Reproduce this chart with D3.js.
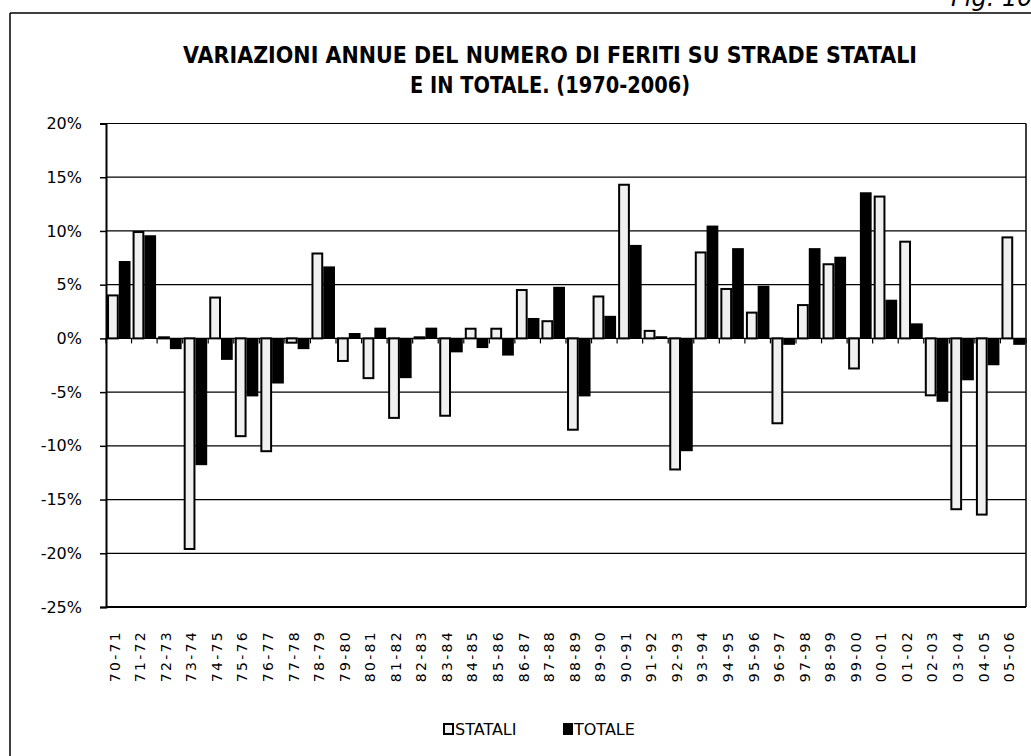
<!DOCTYPE html>
<html>
<head>
<meta charset="utf-8">
<script src="https://cdn.jsdelivr.net/npm/d3@7"></script>
<style>
  body { margin: 0; background: #fff; }
  text { font-family: "DejaVu Sans", sans-serif; fill: #000; }
</style>
</head>
<body>
<div id="chart"></div>
<script>
var periods = ["70-71", "71-72", "72-73", "73-74", "74-75", "75-76", "76-77", "77-78", "78-79", "79-80",
  "80-81", "81-82", "82-83", "83-84", "84-85", "85-86", "86-87", "87-88", "88-89", "89-90",
  "90-91", "91-92", "92-93", "93-94", "94-95", "95-96", "96-97", "97-98", "98-99", "99-00",
  "00-01", "01-02", "02-03", "03-04", "04-05", "05-06"];

// variazione % annua, strade statali
var statali = [4.0, 9.9, 0.1, -19.6, 3.8, -9.1, -10.5, -0.4, 7.9, -2.1,
  -3.7, -7.4, 0.1, -7.2, 0.9, 0.9, 4.5, 1.6, -8.5, 3.9,
  14.3, 0.7, -12.2, 8.0, 4.6, 2.4, -7.9, 3.1, 6.9, -2.8,
  13.2, 9.0, -5.3, -15.9, -16.4, 9.4];

// variazione % annua, totale
var totale = [7.2, 9.6, -1.0, -11.8, -2.0, -5.4, -4.2, -1.0, 6.7, 0.5,
  1.0, -3.7, 1.0, -1.3, -0.9, -1.6, 1.9, 4.8, -5.4, 2.1,
  8.7, 0.2, -10.5, 10.5, 8.4, 4.9, -0.6, 8.4, 7.6, 13.6,
  3.6, 1.4, -5.9, -3.9, -2.5, -0.6];

var series = ["STATALI", "TOTALE"];
var yTicks = [20, 15, 10, 5, 0, -5, -10, -15, -20, -25];

var width = 1031, height = 756;
var plotLeft = 106, plotRight = 1026, plotTop = 123.5, plotBottom = 607;

var svg = d3.select("#chart").append("svg")
  .attr("width", width)
  .attr("height", height);

// page frame
svg.append("line").attr("x1", 10).attr("x2", width).attr("y1", 13).attr("y2", 13)
  .attr("stroke", "#000").attr("stroke-width", 1.5);
svg.append("line").attr("x1", 10).attr("x2", 10).attr("y1", 13).attr("y2", height)
  .attr("stroke", "#000").attr("stroke-width", 1.5);

svg.append("text")
  .attr("x", 951).attr("y", 6)
  .style("font-size", "24px")
  .style("font-style", "italic")
  .text("Fig. 10");

// title
svg.append("text")
  .attr("x", 550).attr("y", 63)
  .attr("text-anchor", "middle")
  .attr("textLength", 734)
  .attr("lengthAdjust", "spacingAndGlyphs")
  .style("font-size", "23px").style("font-weight", "bold")
  .text("VARIAZIONI ANNUE DEL NUMERO DI FERITI SU STRADE STATALI");
svg.append("text")
  .attr("x", 550).attr("y", 93)
  .attr("text-anchor", "middle")
  .attr("textLength", 280)
  .attr("lengthAdjust", "spacingAndGlyphs")
  .style("font-size", "23px").style("font-weight", "bold")
  .text("E IN TOTALE. (1970-2006)");

var x = d3.scaleBand()
  .domain(periods)
  .range([plotLeft, plotRight])
  .paddingInner(0.08)
  .paddingOuter(0.04);

var xs = d3.scaleBand()
  .domain(series)
  .range([0, x.bandwidth()]);

var y = d3.scaleLinear()
  .domain([-25, 20])
  .range([plotBottom, plotTop]);

// grid lines
svg.append("g").selectAll("line")
  .data(yTicks)
  .enter().append("line")
  .attr("x1", plotLeft).attr("x2", plotRight)
  .attr("y1", function(d) { return y(d); })
  .attr("y2", function(d) { return y(d); })
  .attr("stroke", "#000")
  .attr("stroke-width", function(d) { return d == -25 ? 2 : 1.2; });

// right border
svg.append("line").attr("x1", plotRight).attr("x2", plotRight).attr("y1", plotTop).attr("y2", plotBottom)
  .attr("stroke", "#000").attr("stroke-width", 1.5);

// y axis
var yAxis = d3.axisLeft(y)
  .tickValues(yTicks)
  .tickSize(6)
  .tickPadding(18)
  .tickFormat(function(d) { return d + "%"; });

var yg = svg.append("g")
  .attr("transform", "translate(" + plotLeft + ",0)")
  .call(yAxis);
yg.select(".domain").attr("stroke-width", 2);
yg.selectAll(".tick line").attr("stroke-width", 1.5);
yg.selectAll("text")
  .style("font-family", "'DejaVu Sans', sans-serif")
  .style("font-size", "16px")
  .attr("fill", "#000");

// bars
var groups = svg.append("g").selectAll("g")
  .data(periods)
  .enter().append("g")
  .attr("transform", function(d) { return "translate(" + x(d) + ",0)"; });

groups.append("rect")
  .attr("x", xs("STATALI") + 1)
  .attr("width", xs.bandwidth() - 2)
  .attr("y", function(d, i) { return y(Math.max(0, statali[i])); })
  .attr("height", function(d, i) { return Math.abs(y(statali[i]) - y(0)); })
  .attr("fill", "#f0f0f0")
  .attr("stroke", "#000")
  .attr("stroke-width", 2);

groups.append("rect")
  .attr("x", xs("TOTALE"))
  .attr("width", xs.bandwidth())
  .attr("y", function(d, i) { return y(Math.max(0, totale[i])); })
  .attr("height", function(d, i) { return Math.abs(y(totale[i]) - y(0)); })
  .attr("fill", "#000");

// category ticks on the zero line
var step = x.step();
svg.append("g").selectAll("line")
  .data(d3.range(periods.length + 1))
  .enter().append("line")
  .attr("x1", function(i) { return plotLeft + i * step; })
  .attr("x2", function(i) { return plotLeft + i * step; })
  .attr("y1", y(0))
  .attr("y2", y(0) + 5)
  .attr("stroke", "#000")
  .attr("stroke-width", 1.2);

// x labels
svg.append("g").selectAll("text")
  .data(periods)
  .enter().append("text")
  .attr("transform", function(d) {
    return "translate(" + (x(d) + x.bandwidth() / 2 - 4) + "," + 630 + ") rotate(-90)";
  })
  .attr("text-anchor", "end")
  .attr("dy", "0.35em")
  .style("font-size", "14px")
  .style("letter-spacing", "2.3px")
  .text(function(d) { return d; });

// legend
var legend = svg.append("g");
legend.append("rect").attr("x", 444).attr("y", 724).attr("width", 9).attr("height", 10)
  .attr("fill", "#f0f0f0").attr("stroke", "#000").attr("stroke-width", 2);
legend.append("text").attr("x", 455).attr("y", 735).style("font-size", "16px").text("STATALI");
legend.append("rect").attr("x", 563).attr("y", 723).attr("width", 10).attr("height", 12)
  .attr("fill", "#000");
legend.append("text").attr("x", 574).attr("y", 735).style("font-size", "16px").text("TOTALE");
</script>
</body>
</html>
